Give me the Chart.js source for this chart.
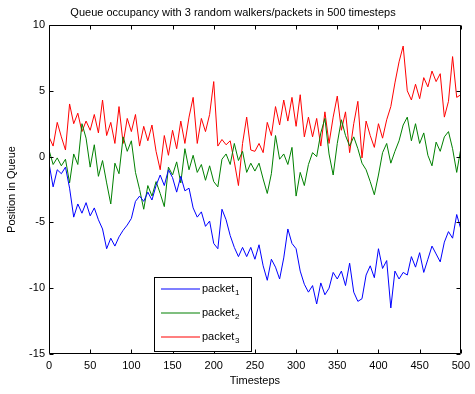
<!DOCTYPE html>
<html>
<head>
<meta charset="utf-8">
<title>Queue occupancy</title>
<script src="https://cdn.jsdelivr.net/npm/chart.js@4.4.1/dist/chart.umd.min.js"></script>
<style>
  html, body { margin: 0; padding: 0; background: #fff; }
</style>
</head>
<body>
<canvas id="chart" width="475" height="394"></canvas>
<script>
(function () {
  'use strict';

  // values, one sample every 5 timesteps
  const SAMPLE_STEP = 5;

  const packet1 = [
    -0.5, -2.3, -1.0, -1.3, -0.8, -2.4, -4.6, -3.6, -4.3, -3.5,
    -4.5, -3.9, -4.8, -5.5, -7.0, -6.2, -6.8, -6.1, -5.6, -5.2,
    -4.7, -3.4, -3.0, -3.4, -2.7, -3.3, -2.2, -1.4, -2.2, -1.0,
    -1.6, -2.7, -1.5, -2.6, -2.4, -3.9, -4.6, -4.2, -5.3, -4.9,
    -6.6, -7.0, -4.0, -4.8, -6.0, -6.9, -7.6, -6.9, -7.6, -6.9,
    -7.8, -6.7, -8.3, -9.4, -7.8, -8.4, -9.3, -7.7, -5.5, -6.6,
    -7.0, -8.7, -9.7, -10.3, -9.8, -11.2, -9.6, -10.5, -10.0, -8.8,
    -9.3, -8.7, -9.8, -8.1, -10.3, -11.0, -10.8, -9.0, -8.3, -9.2,
    -7.0, -8.5, -7.9, -11.5, -8.7, -9.3, -8.8, -9.0, -7.6, -8.4,
    -7.3, -8.8, -7.8, -6.8, -7.4, -8.0, -6.5, -5.7, -6.2, -4.4,
    -5.5
  ];

  const packet2 = [
    0.5, -0.6, -0.1, -0.7, -0.2, -2.0, 0.2, -0.6, 2.5, 1.4,
    -0.8, 0.9, -1.5, -0.3, -2.0, -3.6, -0.5, -1.3, 1.5, 0.4,
    1.2, -1.2, -2.5, -4.0, -2.2, -3.0, -1.9, -2.8, -3.8, -0.8,
    -1.4, -0.4, -2.0, 0.6, -1.0, 0.1, -1.2, -0.6, -1.8, -0.7,
    -1.9, -2.3, -0.2, 0.2, -0.6, 1.0, -0.3, 0.4, -1.2, -0.5,
    -1.1, -0.5, -1.7, -2.8, -1.3, 1.6, -0.2, 0.2, -0.6, 0.7,
    -3.0, -1.2, -2.2, -0.6, 0.3, 0.0, 1.8, 2.9, 0.2, -1.4,
    1.0, 2.8, 1.6, 0.8, 1.5, 0.6, -0.5, -1.0, -1.9, -2.9,
    -1.4, 0.3, 1.0, -0.5, 0.4, 1.2, 2.4, 3.0, 1.2, 2.5,
    1.0, 1.8, 0.1, -0.7, 1.1, 0.4, 1.5, 1.9, 0.6, -1.2,
    0.6
  ];

  const packet3 = [
    1.5, 0.8, 2.6, 1.5, 0.5, 4.0, 2.5, 3.3, 1.9, 2.7,
    2.0, 3.2, 1.8, 4.3, 1.6, 2.6, 1.0, 3.8, 1.0, 2.9,
    1.9, 3.2, 0.8, 2.3, 1.2, 2.4, 0.4, -1.0, 1.6, 0.1,
    2.0, 0.6, 2.7, 1.0, 3.0, 4.5, 1.0, 2.9, 1.9, 3.2,
    5.7, 0.8, 1.3, 0.9, 1.2, -0.4, -2.2, 1.0, 3.0, 0.5,
    0.4, 1.0, 0.3, 2.6, 1.6, 3.8, 2.4, 4.3, 2.7, 4.5,
    2.3, 4.7, 1.5, 3.0, 1.5, 2.9, 0.8, 3.4, 1.0, 3.0,
    4.6, 2.0, 3.4, 0.3, 2.5, 4.2, -0.1, 2.7, 1.6, 0.7,
    2.5, 1.4, 2.8, 3.8, 5.6, 7.2, 8.4, 5.0, 4.3, 5.5,
    4.4, 6.0, 5.3, 6.5, 5.7, 6.3, 3.0, 4.2, 7.6, 4.5,
    4.7
  ];

  const seriesLabels = ['packet\u2081', 'packet\u2082', 'packet\u2083'];
  const seriesColors = ['#0000ff', '#008000', '#ff0000'];

  const xTicks = [0, 50, 100, 150, 200, 250, 300, 350, 400, 450, 500];
  const yTicks = [-15, -10, -5, 0, 5, 10];

  const FONT = "'Liberation Sans', Arial, sans-serif";

  function toPoints(values) {
    return values.map((v, i) => ({ x: i * SAMPLE_STEP, y: v }));
  }

  // box round the axes with MATLAB style inward ticks on all four sides
  const axesBox = {
    id: 'axesBox',
    afterDatasetsDraw(chart) {
      const { ctx, chartArea: a, scales } = chart;
      const L = Math.round(a.left) + 0.5;
      const R = Math.round(a.right) - 0.5;
      const T = Math.round(a.top) + 0.5;
      const B = Math.round(a.bottom) - 0.5;
      const len = 4;
      ctx.save();
      ctx.strokeStyle = '#000';
      ctx.lineWidth = 1;
      ctx.beginPath();
      ctx.rect(L, T, R - L, B - T);
      for (const t of xTicks) {
        const x = Math.round(scales.x.getPixelForValue(t)) + 0.5;
        ctx.moveTo(x, B); ctx.lineTo(x, B - len);
        ctx.moveTo(x, T); ctx.lineTo(x, T + len);
      }
      for (const t of yTicks) {
        const y = Math.round(scales.y.getPixelForValue(t)) + 0.5;
        ctx.moveTo(L, y); ctx.lineTo(L + len, y);
        ctx.moveTo(R, y); ctx.lineTo(R - len, y);
      }
      ctx.stroke();
      ctx.restore();
    },
  };

  const plotTitle = {
    id: 'plotTitle',
    afterDraw(chart, args, opts) {
      const { ctx } = chart;
      ctx.save();
      ctx.fillStyle = '#000';
      ctx.font = '11px ' + FONT;
      ctx.textAlign = 'center';
      ctx.textBaseline = 'middle';
      ctx.fillText(opts.text, opts.x, opts.y);
      ctx.restore();
    },
  };

  // legend box with subscripted labels
  const boxLegend = {
    id: 'boxLegend',
    afterDraw(chart, args, opts) {
      const { ctx } = chart;
      const b = opts.box;
      ctx.save();
      ctx.fillStyle = '#ffffff';
      ctx.fillRect(b.left, b.top, b.width, b.height);
      ctx.strokeStyle = '#000000';
      ctx.lineWidth = 1;
      ctx.strokeRect(b.left + 0.5, b.top + 0.5, b.width - 1, b.height - 1);
      for (let i = 0; i < seriesLabels.length; i++) {
        const y = opts.rows[i];
        // sample line, spread over two pixel rows like the antialiased original
        ctx.strokeStyle = seriesColors[i];
        ctx.lineWidth = 1.2;
        ctx.beginPath();
        ctx.moveTo(opts.lineStart, y);
        ctx.lineTo(opts.lineEnd, y);
        ctx.stroke();

        const label = seriesLabels[i];
        const base = label.slice(0, -1);
        const sub = String(label.charCodeAt(label.length - 1) - 0x2080);
        ctx.fillStyle = '#000000';
        ctx.textAlign = 'left';
        ctx.textBaseline = 'middle';
        ctx.font = '11px ' + FONT;
        ctx.fillText(base, opts.textStart, y);
        const w = ctx.measureText(base).width;
        ctx.font = '8px ' + FONT;
        ctx.fillText(sub, opts.textStart + w + 0.5, y + 4);
      }
      ctx.restore();
    },
  };

  const datasets = [packet1, packet2, packet3].map((values, i) => ({
    label: seriesLabels[i],
    data: toPoints(values),
    borderColor: seriesColors[i],
    backgroundColor: seriesColors[i],
    borderWidth: 1,
    pointRadius: 0,
    tension: 0,
    fill: false,
  }));

  new Chart(document.getElementById('chart'), {
    type: 'line',
    data: { datasets },
    plugins: [axesBox, plotTitle, boxLegend],
    options: {
      responsive: false,
      animation: false,
      layout: { padding: { top: 25, right: 9, left: 0, bottom: 0 } },
      scales: {
        x: {
          type: 'linear',
          min: 0,
          max: 500,
          afterFit(scale) { scale.height = 40; },
          afterBuildTicks(scale) { scale.ticks = xTicks.map((v) => ({ value: v })); },
          grid: { display: false, drawTicks: false },
          border: { display: false },
          ticks: { color: '#000', padding: 5, maxRotation: 0, font: { family: FONT, size: 11 } },
          title: {
            display: true,
            text: 'Timesteps',
            color: '#000',
            padding: { top: 0, bottom: 6 },
            font: { family: FONT, size: 11 },
          },
        },
        y: {
          min: -15,
          max: 10,
          afterFit(scale) { scale.width = 49; },
          afterBuildTicks(scale) { scale.ticks = yTicks.map((v) => ({ value: v })); },
          grid: { display: false, drawTicks: false },
          border: { display: false },
          ticks: { color: '#000', padding: 4, font: { family: FONT, size: 11 } },
          title: {
            display: true,
            text: 'Position in Queue',
            color: '#000',
            padding: { top: 5, bottom: 0 },
            font: { family: FONT, size: 11 },
          },
        },
      },
      plugins: {
        legend: { display: false },
        tooltip: { enabled: true },
        plotTitle: { text: 'Queue occupancy with 3 random walkers/packets in 500 timesteps', x: 233, y: 13 },
        boxLegend: {
          box: { left: 154, top: 277, width: 98, height: 75 },
          rows: [289, 313, 337],
          lineStart: 161,
          lineEnd: 200,
          textStart: 202,
        },
      },
    },
  });
})();
</script>
</body>
</html>
